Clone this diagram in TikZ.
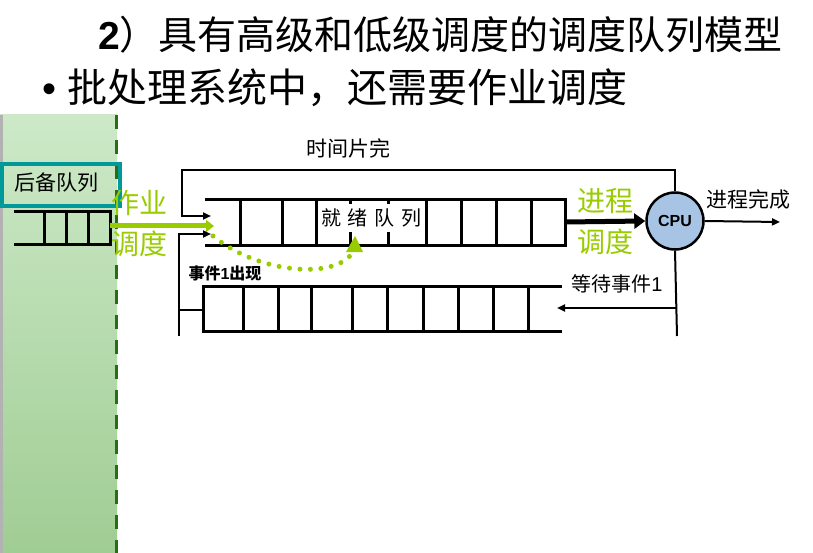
\documentclass[tikz,border=0pt]{standalone}
\usepackage{fontspec}
\setmainfont{Noto Sans CJK SC}
\newfontfamily\lat{Liberation Sans}
\usetikzlibrary{arrows.meta}
\definecolor{lg}{HTML}{99CC00}
\definecolor{teal2}{HTML}{009999}
\begin{document}
\begin{tikzpicture}[x=1pt,y=-1pt,
  q/.style={line width=3pt},
  arr/.style={line width=2pt,-{Triangle[length=8pt,width=7pt]}},
  lbl/.style={inner sep=0pt,anchor=center}]
\useasboundingbox (0,0) rectangle (813,553);
% green panel
\shade[top color={rgb,255:red,205;green,233;blue,200},bottom color={rgb,255:red,160;green,205;blue,148}] (0,115) rectangle (117,553);
\fill[gray!60] (0,115) rectangle (3,553);
\draw[line width=3pt,color={rgb,255:red,40;green,110;blue,20},dash pattern=on 14pt off 11pt] (116,115) -- (116,553);
% titles
\node[lbl,anchor=west] (t1) at (98,35) {\fontsize{39}{42}\selectfont\lat\bfseries 2\normalfont\fontsize{39}{42}\selectfont）具有高级和低级调度的调度队列模型};
\node[lbl,anchor=west] (t2) at (42,88) {\fontsize{40}{42}\selectfont\lat •\ \normalfont\fontsize{40}{42}\selectfont 批处理系统中，还需要作业调度};
% backup queue
\draw[teal2,line width=3.5pt] (2,164) rectangle (120,206);
\node[lbl] (hb) at (56,183) {\fontsize{21}{22}\selectfont 后备队列};
\draw[q] (14,212) -- (110,212) -- (110,245) -- (14,245);
\foreach \x in {44,66,88} \draw[q] (\x,212) -- (\x,245);
% job scheduling arrow
\draw[lg,line width=5pt,-{Triangle[length=8pt,width=12pt]}] (110,226) -- (214,226);
\node[lbl,text=lg] (zy) at (139,203) {\fontsize{28}{30}\selectfont 作业};
\node[lbl,text=lg] (dd) at (139,244) {\fontsize{28}{30}\selectfont 调度};
% ready queue
\draw[q] (205,200) -- (565,200) -- (565,246) -- (205,246);
\foreach \x in {240,282,316,350,388,426,461,496,531} \draw[q] (\x,200) -- (\x,246);
\fill[white] (318,204) rectangle (424,232);
\node[lbl] (rq) at (371,218) {\fontsize{20}{22}\selectfont 就\,\,绪\,\,队\,\,列};
% CPU
\node[circle,draw,line width=2.5pt,fill={rgb,255:red,167;green,196;blue,228},minimum size=57pt,inner sep=0pt] (cpu) at (675,221) {\lat\bfseries\fontsize{16}{17}\selectfont CPU};
\draw[line width=5pt,-{Triangle[length=11pt,width=15pt]}] (565,222) -- (cpu.west);
\node[lbl,text=lg] (jc) at (605,201) {\fontsize{28}{30}\selectfont 进程};
\node[lbl,text=lg] (jd) at (605,242) {\fontsize{28}{30}\selectfont 调度};
\coordinate (done) at (780,222);
\draw[arr] (cpu.east) -- (done);
\node[lbl] (wc) at (748,199) {\fontsize{21}{22}\selectfont 进程完成};
% time slice loop
\coordinate (ts) at (211,216);
\draw[arr] (cpu.north) |- (182,170) |- (ts);
\node[lbl] (sj) at (348,148) {\fontsize{21}{22}\selectfont 时间片完};
% event arrow
\coordinate (ev) at (211,234);
\coordinate (evb) at (179,336);
\draw[arr] (evb) |- (ev);
\draw[line width=2pt] (179,310) -- (203,310);
\node[lbl] (e1) at (225,273) {\bfseries\fontsize{16}{18}\selectfont 事件\lat 1\normalfont\bfseries\fontsize{16}{18}\selectfont 出现};
% blocked queue
\draw[q] (562,286) -- (203,286) -- (203,331) -- (562,331);
\foreach \x in {243,278,311,352,387,423,458,493,528} \draw[q] (\x,286) -- (\x,331);
\coordinate (wq) at (557,308);
\coordinate (cb) at (677,336);
\draw[line width=2pt] (cpu.south) -- (cb);
\draw[arr] (677,308) -- (wq);
\node[lbl] (w1) at (617,284) {\fontsize{20}{22}\selectfont 等待事件\lat 1};
% dotted green curve
\draw[lg,line width=5pt,dash pattern=on 0pt off 10.5pt,line cap=round] (213,236) .. controls (260,275) and (340,280) .. (354,250);
\fill[lg] (355,236) -- (346,252) -- (363,252) -- cycle;
\end{tikzpicture}
\end{document}
